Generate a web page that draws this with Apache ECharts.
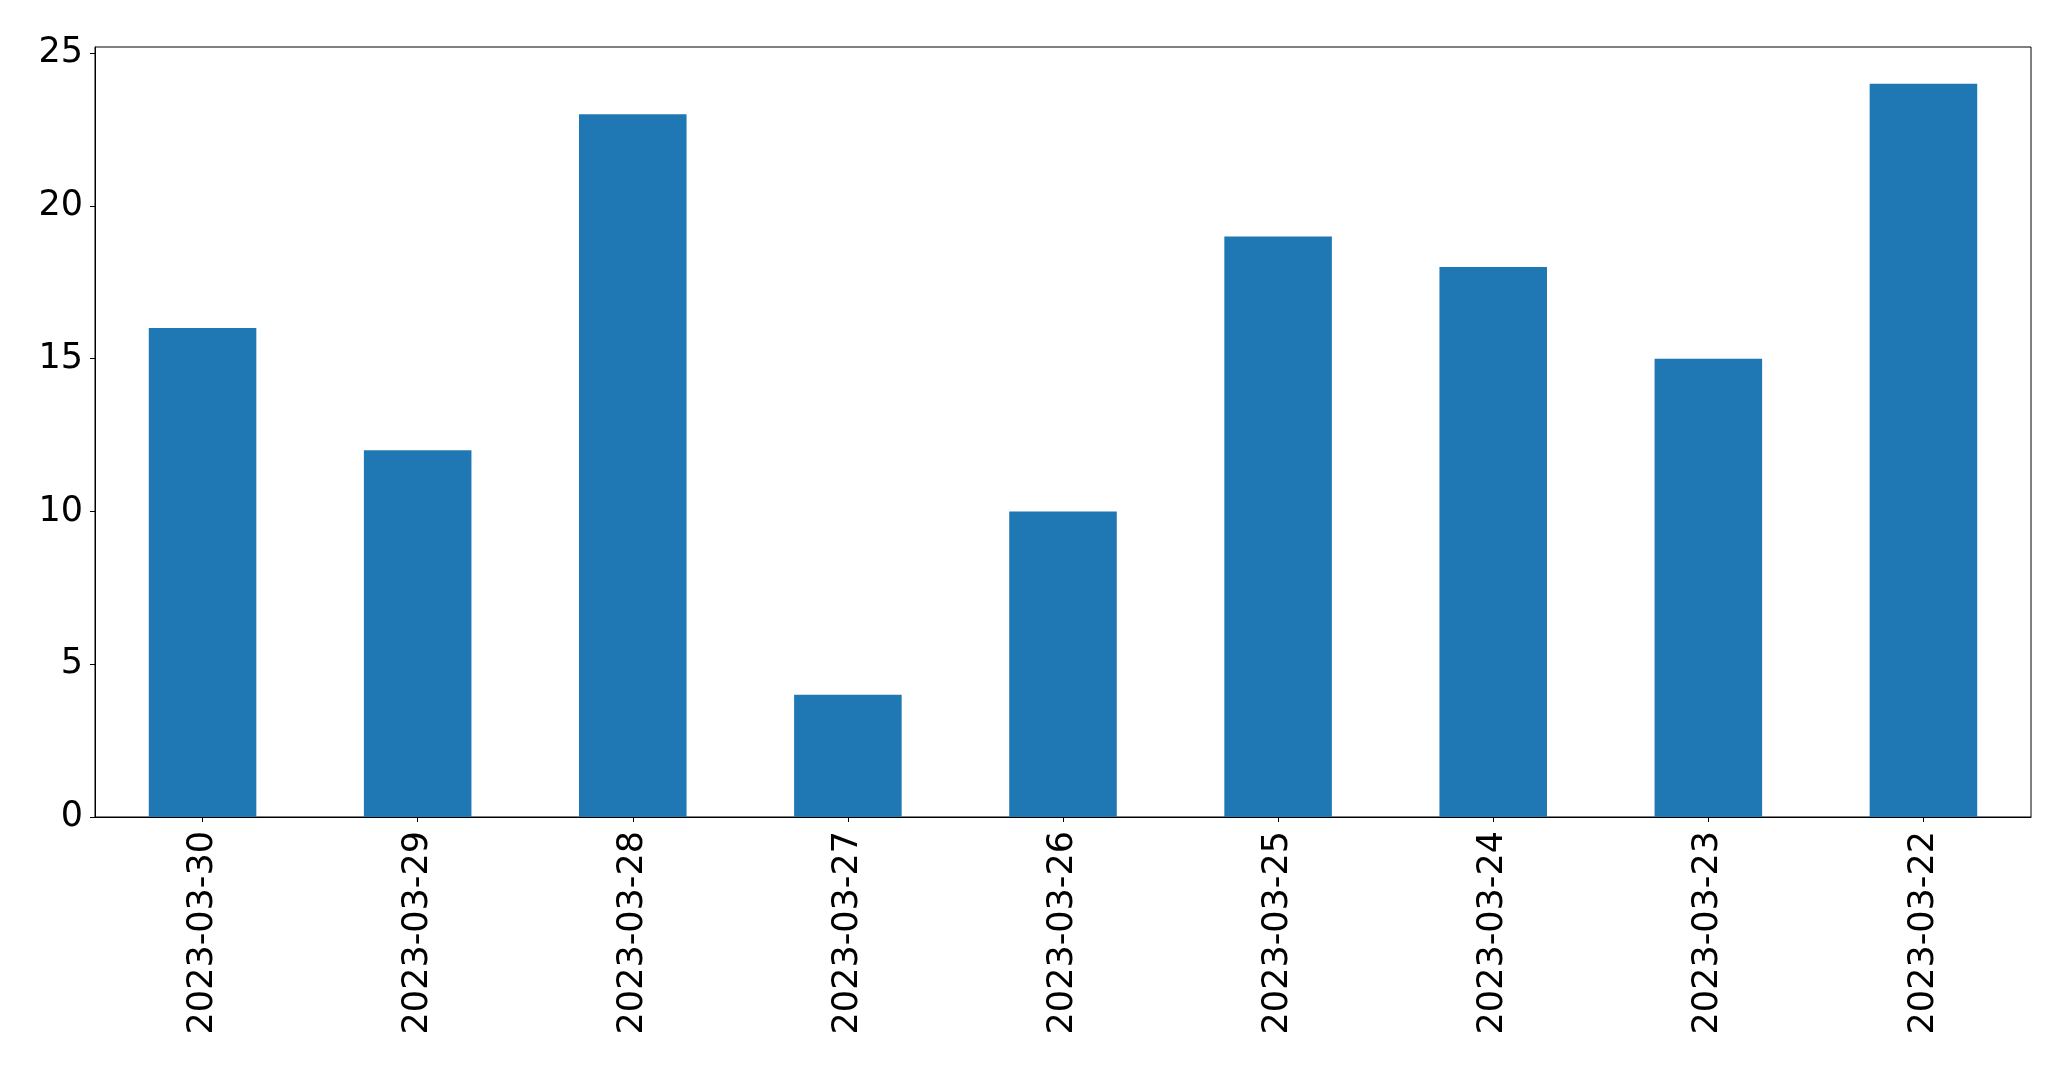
<!DOCTYPE html>
<html>
<head>
<meta charset="utf-8">
<script src="https://cdn.jsdelivr.net/npm/echarts@6/dist/echarts.min.js"></script>
<style>
html,body{margin:0;padding:0;background:#fff;}
#chart{width:2071px;height:1069px;}
</style>
</head>
<body>
<div id="chart"></div>
<script>
const categories = ['2023-03-30','2023-03-29','2023-03-28','2023-03-27','2023-03-26','2023-03-25','2023-03-24','2023-03-23','2023-03-22'];
const values = [16, 12, 23, 4, 10, 19, 18, 15, 24];
const yTicks = [0, 5, 10, 15, 20, 25];
const yMax = 25.2;

const chart = echarts.init(document.getElementById('chart'), null, {renderer: 'canvas'});
const font = 'DejaVu Sans';
chart.setOption({
  animation: false,
  backgroundColor: '#fff',
  grid: {left: 95, right: 40, top: 47, bottom: 252, show: true, borderColor: '#000', borderWidth: 1, backgroundColor: 'transparent'},
  xAxis: {
    type: 'category',
    data: categories,
    boundaryGap: true,
    axisLine: {show: true, lineStyle: {color: '#000', width: 1}},
    axisTick: {show: true, alignWithLabel: true, length: 5, lineStyle: {color: '#000', width: 1}},
    axisLabel: {rotate: 90, fontSize: 35, fontFamily: font, color: '#000', margin: 14, interval: 0},
    splitLine: {show: false}
  },
  yAxis: {
    type: 'value',
    min: 0,
    max: yMax,
    interval: 5,
    axisLine: {show: true, lineStyle: {color: '#000', width: 1}},
    axisTick: {show: true, length: 5, lineStyle: {color: '#000', width: 1}, customValues: yTicks},
    axisLabel: {fontSize: 35, fontFamily: font, color: '#000', margin: 12, customValues: yTicks},
    splitLine: {show: false}
  },
  series: [{
    type: 'bar',
    data: values,
    barWidth: '50%',
    itemStyle: {color: '#1f77b4'}
  }]
});
</script>
</body>
</html>
